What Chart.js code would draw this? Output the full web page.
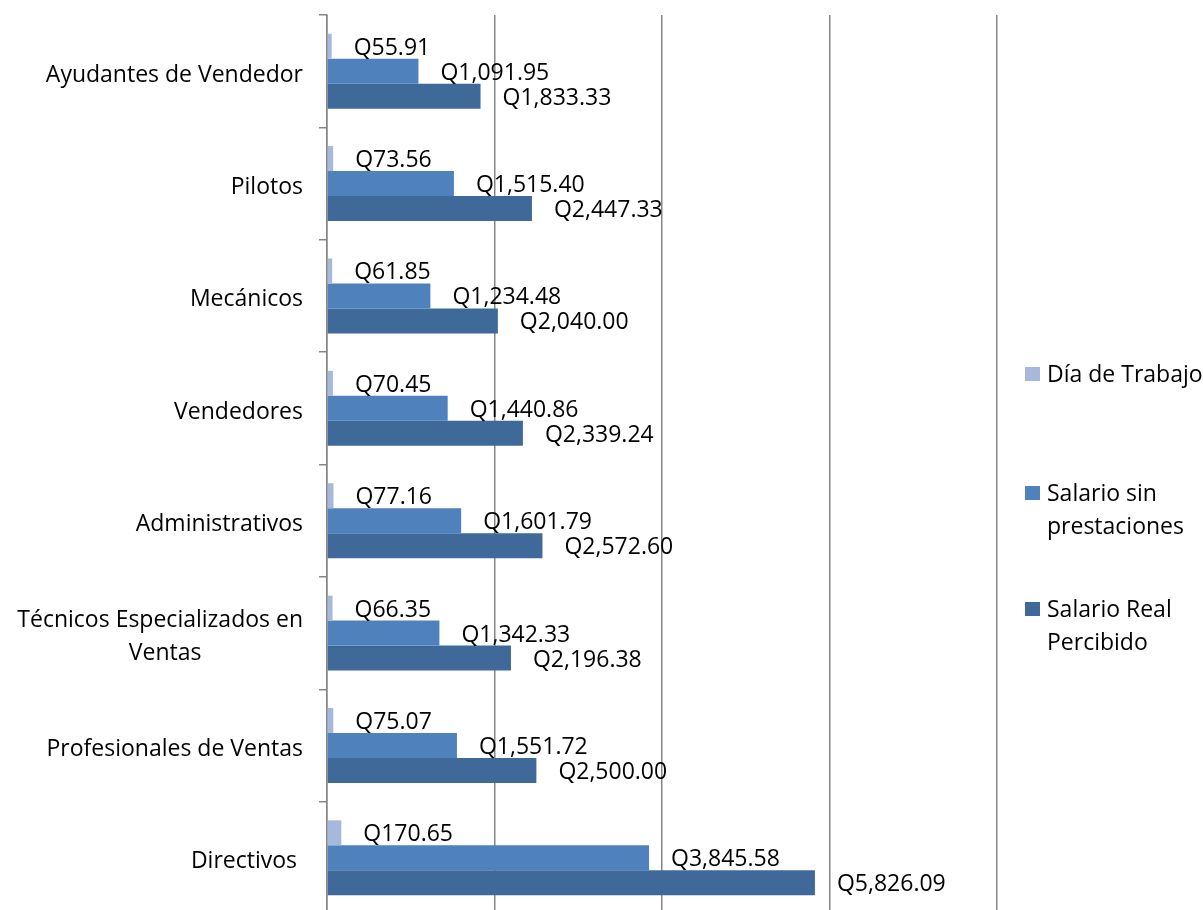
<!DOCTYPE html>
<html>
<head>
<meta charset="utf-8">
<script src="https://cdn.jsdelivr.net/npm/chart.js@4/dist/chart.umd.min.js"></script>
<style>
  html, body { margin: 0; padding: 0; background: #fff; overflow: hidden; }
  #wrap { position: relative; width: 1203px; height: 920px; }
  #legend { position: absolute; left: 1025px; top: 0; font-family: "Open Sans", sans-serif; font-size: 23px; color: #000; }
  .item { position: absolute; left: 0; white-space: nowrap; line-height: 33px; }
  .box { position: absolute; left: 0; top: 10px; width: 15px; height: 14px; }
  .txt { position: absolute; left: 22px; top: 0; }
</style>
</head>
<body>
<div id="wrap">
  <canvas id="chart" width="1203" height="920"></canvas>
  <div id="legend"></div>
</div>
<script>
const categories = [
  "Ayudantes de Vendedor",
  "Pilotos",
  "Mecánicos",
  "Vendedores",
  "Administrativos",
  ["Técnicos Especializados en", "Ventas\u00a0\u00a0\u00a0\u00a0\u00a0\u00a0\u00a0\u00a0\u00a0\u00a0\u00a0\u00a0\u00a0\u00a0\u00a0\u00a0\u00a0"],
  "Profesionales de Ventas",
  "Directivos\u00a0"
];
const diaTrabajo = [55.91, 73.56, 61.85, 70.45, 77.16, 66.35, 75.07, 170.65];
const salarioSin = [1091.95, 1515.40, 1234.48, 1440.86, 1601.79, 1342.33, 1551.72, 3845.58];
const salarioReal = [1833.33, 2447.33, 2040.00, 2339.24, 2572.60, 2196.38, 2500.00, 5826.09];
const seriesNames = ["Día de Trabajo", ["Salario sin", "prestaciones"], ["Salario Real", "Percibido"]];
const seriesColors = ["#A7B9DB", "#4F81BD", "#3E6999"];

const FONT = "Open Sans";
const GRID = "#868686";

const valueLabels = {
  id: "valueLabels",
  afterDatasetsDraw(chart) {
    const ctx = chart.ctx;
    ctx.save();
    ctx.font = "23px '" + FONT + "'";
    ctx.fillStyle = "#000";
    ctx.textAlign = "left";
    ctx.textBaseline = "middle";
    chart.data.datasets.forEach((ds, i) => {
      chart.getDatasetMeta(i).data.forEach((bar, j) => {
        const v = ds.data[j];
        const txt = "Q" + v.toLocaleString("en-US", { minimumFractionDigits: 2, maximumFractionDigits: 2 });
        ctx.fillText(txt, bar.x + 22, bar.y + 2);
      });
    });
    ctx.restore();
  }
};

new Chart(document.getElementById("chart"), {
  type: "bar",
  data: {
    labels: categories,
    datasets: [
      { label: "Día de Trabajo", data: diaTrabajo, backgroundColor: seriesColors[0] },
      { label: "Salario sin prestaciones", data: salarioSin, backgroundColor: seriesColors[1] },
      { label: "Salario Real Percibido", data: salarioReal, backgroundColor: seriesColors[2] }
    ]
  },
  options: {
    indexAxis: "y",
    responsive: false,
    animation: false,
    categoryPercentage: 0.667,
    barPercentage: 1,
    layout: { padding: { left: 0, right: 206, top: 15, bottom: 6 } },
    plugins: {
      legend: { display: false },
      tooltip: { enabled: false }
    },
    scales: {
      x: {
        min: 0,
        max: 8000,
        ticks: { display: false, stepSize: 2000 },
        grid: { color: GRID, lineWidth: 1.5, drawTicks: false },
        border: { display: false },
        afterFit(scale) { scale.height = 0; scale.paddingLeft = 0; scale.paddingRight = 0; }
      },
      y: {
        ticks: {
          color: "#000",
          padding: 16,
          labelOffset: 4,
          font: { family: FONT, size: 23, lineHeight: 1.43 }
        },
        grid: { drawOnChartArea: false, color: GRID, tickLength: 8, lineWidth: 1.5 },
        border: { color: GRID, width: 1.5 },
        afterFit(scale) {
          scale.width = 327;
          scale.paddingTop = 0;
          scale.paddingBottom = 0;
        }
      }
    }
  },
  plugins: [valueLabels]
});

// legend as html
const legendTops = [357, 476, 592];
const legend = document.getElementById("legend");
seriesNames.forEach((name, i) => {
  const item = document.createElement("div");
  item.className = "item";
  item.style.top = legendTops[i] + "px";
  const box = document.createElement("div");
  box.className = "box";
  box.style.background = seriesColors[i];
  const txt = document.createElement("div");
  txt.className = "txt";
  txt.innerHTML = [].concat(name).join("<br>");
  item.appendChild(box);
  item.appendChild(txt);
  legend.appendChild(item);
});
</script>
</body>
</html>
